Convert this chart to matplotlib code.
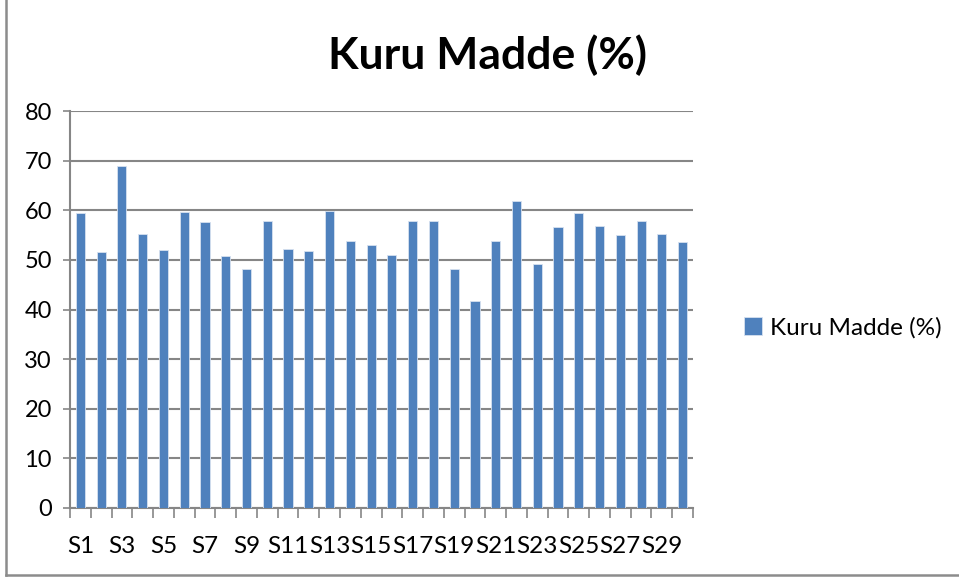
import matplotlib
matplotlib.use("Agg")
import matplotlib.pyplot as plt
import numpy as np
from matplotlib.lines import Line2D

# values
samples = [f"S{i}" for i in range(1, 31)]
kuru_madde = [
    59.5, 51.5, 69.0, 55.3, 52.0, 59.7, 57.6, 50.8, 48.1, 57.9,
    52.1, 51.8, 59.9, 53.9, 53.0, 50.9, 57.8, 57.8, 48.1, 41.7,
    53.8, 61.8, 49.1, 56.6, 59.5, 56.9, 55.0, 57.8, 55.3, 53.6,
]
series_name = "Kuru Madde (%)"
y_ticks = [0, 10, 20, 30, 40, 50, 60, 70, 80]

plt.rcParams["font.family"] = ["Lato", "DejaVu Sans"]

fig = plt.figure(figsize=(9.59, 5.79), dpi=100)
ax = fig.add_axes([70 / 959, 71 / 579, 623 / 959, 397 / 579])

x = np.arange(len(samples))
ax.bar(x, kuru_madde, width=0.44, color="#4F81BD", edgecolor="#D6E1F0",
       linewidth=0.6, label=series_name, zorder=3)

ax.set_xlim(-0.5, len(samples) - 0.5)
ax.set_ylim(0, 80)
ax.set_yticks(y_ticks)
ax.yaxis.grid(True, color="#868686", linewidth=1.5, zorder=0)
ax.tick_params(axis="y", labelsize=17, length=5, width=1.2, color="#868686", pad=8)

# category ticks sit between bars, labels on every other category
ax.set_xticks(np.arange(-0.5, len(samples), 1.0))
ax.set_xticklabels([])
ax.tick_params(axis="x", which="major", length=7, width=1.2, color="#868686")
ax.set_xticks(x[::2], minor=True)
ax.set_xticklabels(samples[::2], minor=True, fontsize=17.5)
ax.tick_params(axis="x", which="minor", length=0, pad=20)

for side in ["top", "right"]:
    ax.spines[side].set_visible(False)
for side in ["left", "bottom"]:
    ax.spines[side].set_color("#868686")
    ax.spines[side].set_linewidth(1.5)

fig.text(487 / 959, 1 - 55 / 579, series_name, ha="center", va="center",
         fontsize=32, fontweight="bold")

ax.legend(loc="center left", bbox_to_anchor=((744 - 70) / 623, (508 - 328) / 397),
          frameon=False, fontsize=17.5, handlelength=0.75, handleheight=0.75,
          handletextpad=0.3, borderaxespad=0, borderpad=0)

# outer chart frame (left and bottom edges visible)
fig.add_artist(Line2D([6 / 959, 6 / 959], [1, 4 / 579], color="#8C8C8C", lw=1.8,
                      transform=fig.transFigure))
fig.add_artist(Line2D([6 / 959, 1], [4 / 579, 4 / 579], color="#8C8C8C", lw=1.8,
                      transform=fig.transFigure))

fig.savefig("out.png", dpi=100)
